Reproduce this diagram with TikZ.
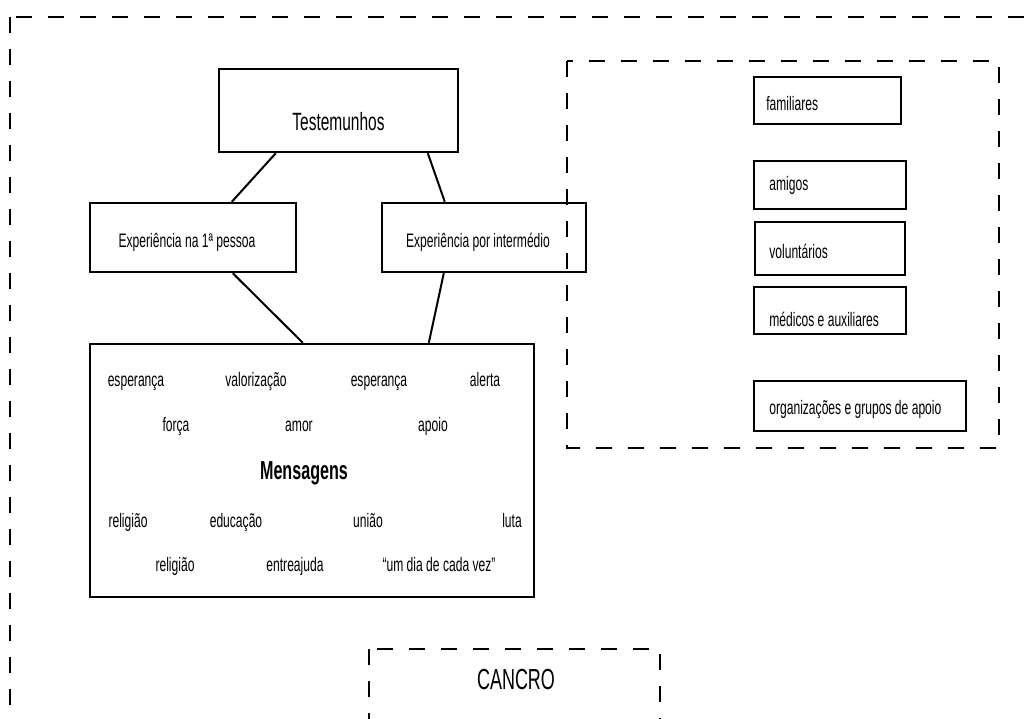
\documentclass[tikz,border=0pt]{standalone}
\usepackage{fontspec}
\setmainfont{Liberation Sans}[FakeStretch=0.62]
\usepackage{tikz}

\begin{document}
\begin{tikzpicture}[x=1pt,y=-1pt,
    box/.style={draw,line width=2.4pt,inner sep=0pt},
    link/.style={line width=2pt},
    dashbox/.style={draw,line width=2.4pt,dash pattern=on 16pt off 16pt},
    word/.style={font=\fontsize{19.5}{21}\selectfont,inner sep=0pt,anchor=base}]

  \useasboundingbox (0,0) rectangle (1034,718);
  \clip (0,0) rectangle (1034,718);

  % big frames
  \draw[dashbox] (10,17) rectangle (1070,760);
  \draw[dashbox] (567,61) rectangle (999,448);
  \draw[dashbox] (369,649) rectangle (660,770);
  \node[font=\fontsize{29}{31}\selectfont] (cancro) at (516,680) {CANCRO};

  \node[box,minimum width=239pt,minimum height=83pt] (test) at (338.5,110.5)
    [label={[yshift=-11pt,font=\fontsize{25}{27}\selectfont]center:Testemunhos}] {};
  \node[box,minimum width=206pt,minimum height=69pt] (exp1) at (193,237.5)
    [label={[xshift=-6pt,yshift=-5pt,font=\fontsize{19.5}{21}\selectfont]center:Experiência na 1ª pessoa}] {};
  \node[box,minimum width=204pt,minimum height=69pt] (exp2) at (484,237.5)
    [label={[xshift=-6pt,yshift=-5pt,font=\fontsize{19.5}{21}\selectfont]center:Experiência por intermédio}] {};
  \node[box,minimum width=444pt,minimum height=253pt] (msg) at (312,470.5) {};

  \draw[link] ([xshift=58pt]test.south west) -- ([xshift=143pt]exp1.north west);
  \draw[link] ([xshift=210pt]test.south west) -- ([xshift=64pt]exp2.north west);
  \draw[link] ([xshift=144pt]exp1.south west) -- ([xshift=214pt]msg.north west);
  \draw[link] ([xshift=63pt]exp2.south west) -- ([xshift=340pt]msg.north west);

  % words inside the message box
  \foreach \wx/\wy/\wtext [count=\i] in {
      136/386/esperança, 256/386/valorização, 379/386/esperança, 485/386/alerta,
      176/431/força, 299/431/amor, 433/431/apoio,
      128/527/religião, 236/527/educação, 368/527/união, 512/527/luta,
      175/571/religião, 295/571/entreajuda, 439/571/{“um dia de cada vez”}}
    \node[word] (word\i) at (\wx,\wy) {\wtext};
  \node[font=\fontsize{26}{28}\selectfont\bfseries] (mens) at (304,473) {Mensagens};

  % who gives the testimonies
  \node[box,minimum width=147pt,minimum height=47pt] (fam) at (827.5,100.5)
    [label={[anchor=west,xshift=10pt,yshift=-3pt,font=\fontsize{19.5}{21}\selectfont]west:familiares}] {};
  \node[box,minimum width=152pt,minimum height=48pt] (ami) at (830,185)
    [label={[anchor=west,xshift=13pt,font=\fontsize{19.5}{21}\selectfont]west:amigos}] {};
  \node[box,minimum width=150pt,minimum height=53pt] (vol) at (830,248.5)
    [label={[anchor=west,xshift=12pt,yshift=-3pt,font=\fontsize{19.5}{21}\selectfont]west:voluntários}] {};
  \node[box,minimum width=152pt,minimum height=47pt] (med) at (830,310.5)
    [label={[anchor=west,xshift=13pt,yshift=-9pt,font=\fontsize{19.5}{21}\selectfont]west:médicos e auxiliares}] {};
  \node[box,minimum width=212pt,minimum height=50pt] (org) at (860,406)
    [label={[anchor=west,xshift=13pt,yshift=-3pt,font=\fontsize{19.5}{21}\selectfont]west:organizações e grupos de apoio}] {};
\end{tikzpicture}
\end{document}
